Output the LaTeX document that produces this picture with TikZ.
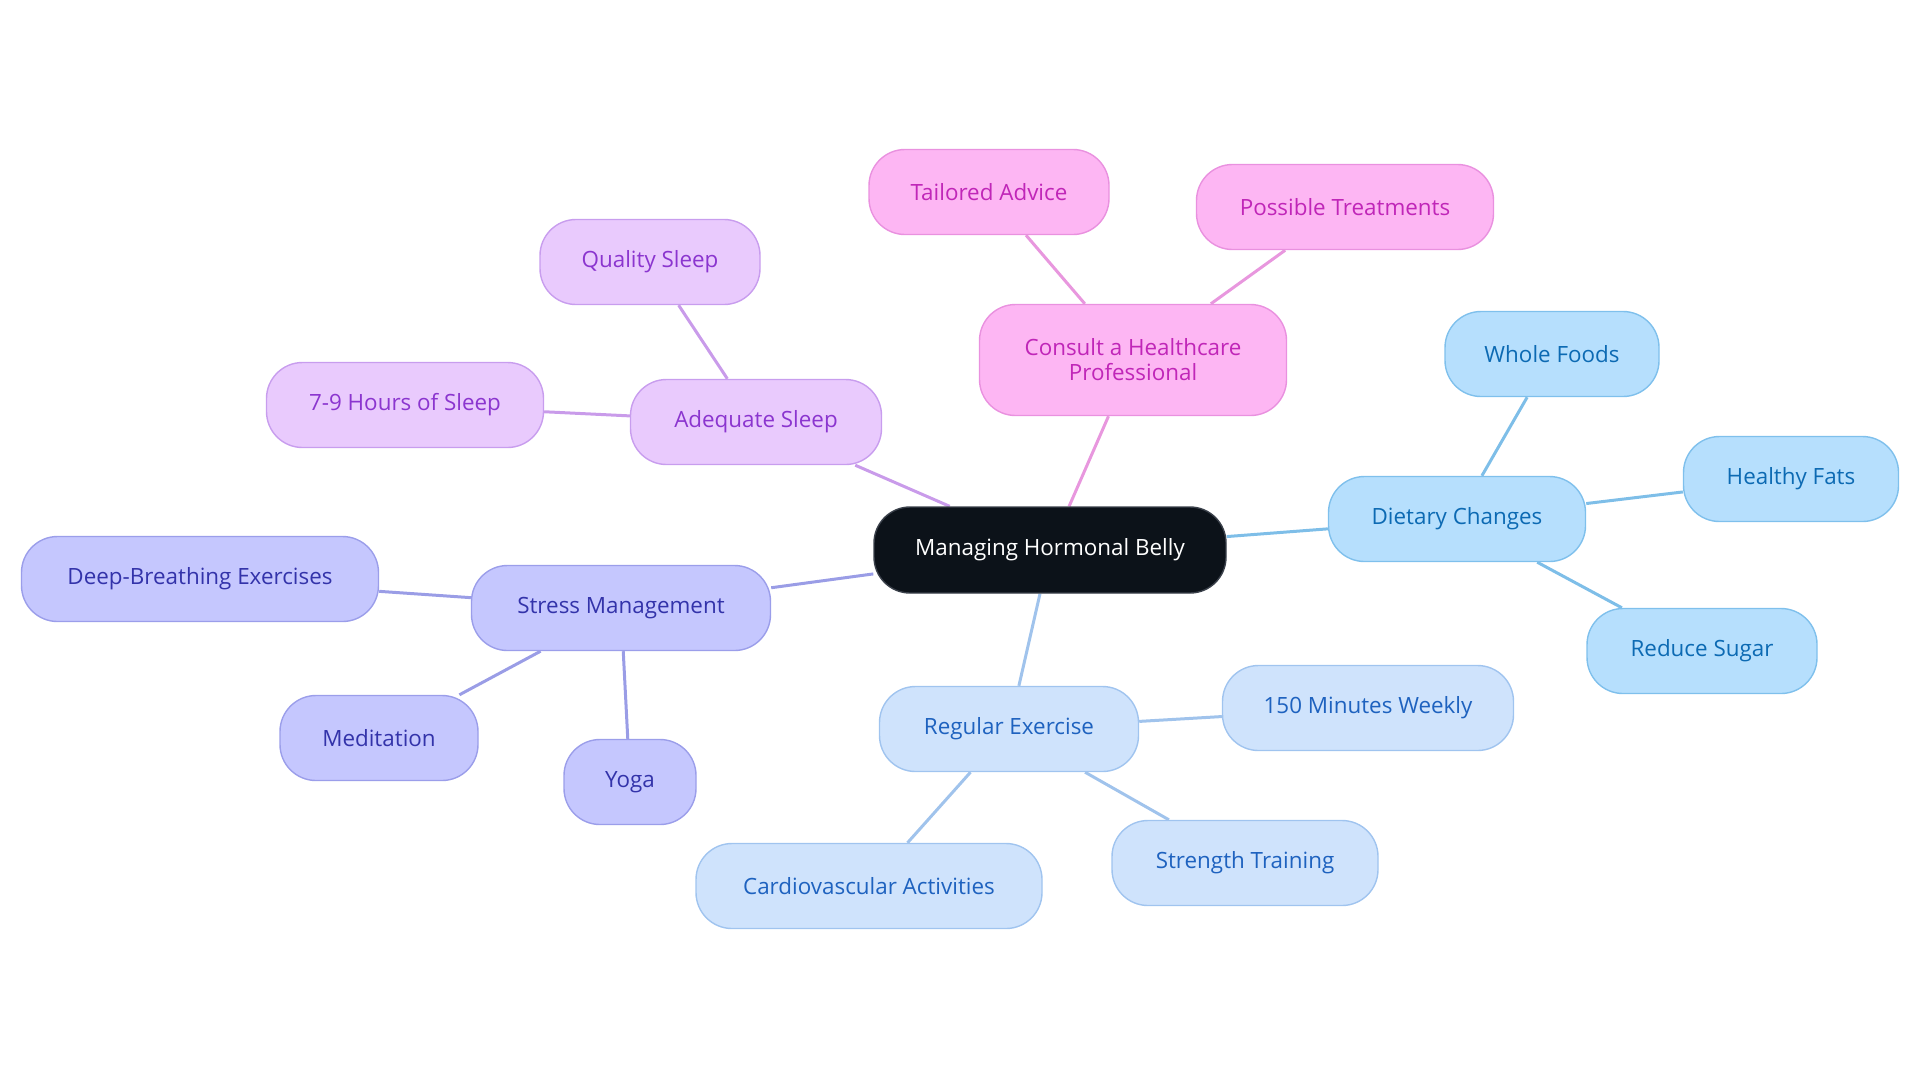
\documentclass[tikz,border=0pt]{standalone}
\usepackage{fontspec}
\setmainfont{Open Sans}
\usetikzlibrary{backgrounds}
\definecolor{cfill}{HTML}{0C1219}
\definecolor{cdraw}{HTML}{3A404A}
\definecolor{pfill}{HTML}{FDB6F3}
\definecolor{pdraw}{HTML}{E991DF}
\definecolor{ptext}{HTML}{C026B8}
\definecolor{pedge}{HTML}{E897DE}
\definecolor{sfill}{HTML}{E9CAFD}
\definecolor{sdraw}{HTML}{C89DEE}
\definecolor{stext}{HTML}{8B35CF}
\definecolor{sedge}{HTML}{C99BEA}
\definecolor{mfill}{HTML}{C5C7FE}
\definecolor{mdraw}{HTML}{9B9EEA}
\definecolor{mtext}{HTML}{3333AA}
\definecolor{medge}{HTML}{9A9DE6}
\definecolor{efill}{HTML}{CFE3FC}
\definecolor{edraw}{HTML}{A0C4EF}
\definecolor{etext}{HTML}{1E62BF}
\definecolor{eedge}{HTML}{A0C3EC}
\definecolor{dfill}{HTML}{B6DFFD}
\definecolor{ddraw}{HTML}{7FC0EC}
\definecolor{dtext}{HTML}{0C6AB3}
\definecolor{dedge}{HTML}{7EBEE8}
\begin{document}
\begin{tikzpicture}[x=0.5pt,y=-0.5pt,
  box/.style={rounded corners=18pt, minimum height=42.5pt, inner sep=0pt, align=center,
    line width=0.7pt, font=\fontsize{11.2}{12.5}\selectfont},
  ctr/.style={box, fill=cfill, draw=cdraw, text=white, minimum height=43pt},
  pbox/.style={box, fill=pfill, draw=pdraw, text=ptext},
  sbox/.style={box, fill=sfill, draw=sdraw, text=stext},
  mbox/.style={box, fill=mfill, draw=mdraw, text=mtext},
  ebox/.style={box, fill=efill, draw=edraw, text=etext},
  dbox/.style={box, fill=dfill, draw=ddraw, text=dtext},
  link/.style={line width=1.5pt}]
\useasboundingbox (0,0) rectangle (1920,1083);
\node[ctr, minimum width=176pt] (c) at (1050,550) {Managing Hormonal Belly};
\node[pbox, minimum width=153.5pt, minimum height=55.5pt] (hp) at (1133,360) {Consult a Healthcare\\Professional};
\node[pbox, minimum width=120pt] (ta) at (989,192) {Tailored Advice};
\node[pbox, minimum width=148.5pt] (pt) at (1345,207) {Possible Treatments};
\node[sbox, minimum width=125.5pt] (as) at (756,422) {Adequate Sleep};
\node[sbox, minimum width=110pt] (qs) at (650,262) {Quality Sleep};
\node[sbox, minimum width=138.5pt] (hs) at (405,405) {7-9 Hours of Sleep};
\node[mbox, minimum width=149.5pt] (sm) at (621,608) {Stress Management};
\node[mbox, minimum width=178.5pt] (db) at (200,579) {Deep-Breathing Exercises};
\node[mbox, minimum width=99pt] (me) at (379,738) {Meditation};
\node[mbox, minimum width=66pt] (yo) at (630,782) {Yoga};
\node[ebox, minimum width=129.5pt] (re) at (1009,729) {Regular Exercise};
\node[ebox, minimum width=145.5pt] (mw) at (1368,708) {150 Minutes Weekly};
\node[ebox, minimum width=133pt] (st) at (1245,863) {Strength Training};
\node[ebox, minimum width=173pt] (ca) at (869,886) {Cardiovascular Activities};
\node[dbox, minimum width=128.5pt] (dc) at (1457,519) {Dietary Changes};
\node[dbox, minimum width=107pt] (wf) at (1552,354) {Whole Foods};
\node[dbox, minimum width=107.5pt] (hf) at (1791,479) {Healthy Fats};
\node[dbox, minimum width=115pt] (rs) at (1702,651) {Reduce Sugar};
\begin{scope}[on background layer]
\draw[link, pedge] (c) -- (hp);
\draw[link, pedge] (hp) -- (ta);
\draw[link, pedge] (hp) -- (pt);
\draw[link, sedge] (c) -- (as);
\draw[link, sedge] (as) -- (qs);
\draw[link, sedge] (as) -- (hs);
\draw[link, medge] (c) -- (sm);
\draw[link, medge] (sm) -- (db);
\draw[link, medge] (sm) -- (me);
\draw[link, medge] (sm) -- (yo);
\draw[link, eedge] (c) -- (re);
\draw[link, eedge] (re) -- (mw);
\draw[link, eedge] (re) -- (st);
\draw[link, eedge] (re) -- (ca);
\draw[link, dedge] (c) -- (dc);
\draw[link, dedge] (dc) -- (wf);
\draw[link, dedge] (dc) -- (hf);
\draw[link, dedge] (dc) -- (rs);
\end{scope}
\end{tikzpicture}
\end{document}
